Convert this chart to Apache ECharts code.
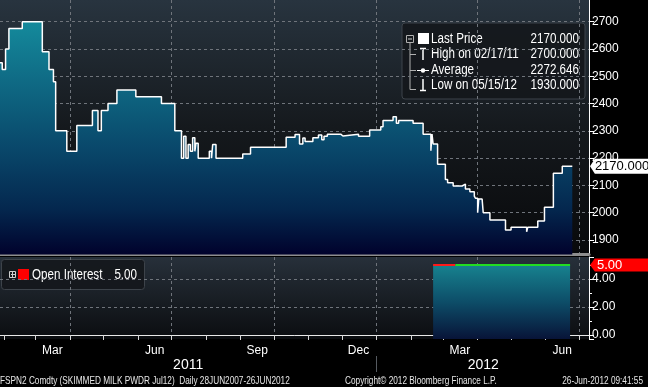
<!DOCTYPE html>
<html><head><meta charset="utf-8">
<script src="https://cdn.jsdelivr.net/npm/echarts@6/dist/echarts.min.js"></script>
<style>html,body{margin:0;padding:0;background:#000;}#c{width:648px;height:387px;}</style>
</head><body><div id="c"></div>
<script>
// ---------------- data ----------------
const axisStart = '2011-01-28';
const axisEnd = '2012-07-10';
const priceDates = [
 '2011-01-28','2011-01-30','2011-02-02','2011-02-05','2011-02-17','2011-03-07','2011-03-13','2011-03-17','2011-03-19','2011-03-29',
 '2011-04-07','2011-04-21','2011-04-26','2011-04-29','2011-05-05','2011-05-13','2011-05-30','2011-06-22','2011-07-04','2011-07-10',
 '2011-07-12','2011-07-14','2011-07-16','2011-07-18','2011-07-20','2011-07-22','2011-07-23','2011-07-25','2011-08-04','2011-08-06',
 '2011-08-07','2011-08-10','2011-09-03','2011-09-10','2011-10-12','2011-10-20','2011-10-24','2011-10-27','2011-10-29','2011-11-05',
 '2011-11-10','2011-11-13','2011-11-15','2011-11-18','2011-11-30','2011-12-02','2011-12-16','2011-12-26','2012-01-05','2012-01-07',
 '2012-01-16','2012-01-19','2012-01-21','2012-02-03','2012-02-12','2012-02-19','2012-02-20','2012-02-21','2012-02-25','2012-03-03',
 '2012-03-05','2012-03-10','2012-03-18','2012-03-21','2012-03-25','2012-03-29','2012-03-30','2012-04-01','2012-04-02','2012-04-05',
 '2012-04-06','2012-04-12','2012-04-26','2012-05-01','2012-05-15','2012-05-16','2012-05-25','2012-05-31','2012-06-08','2012-06-16',
 '2012-06-25'];
const priceValues = [
 2550,2525,2600,2675,2700,2590,2525,2480,2300,2225,
 2320,2375,2300,2375,2400,2450,2425,2400,2300,2200,
 2280,2200,2250,2225,2275,2225,2255,2200,2225,2200,
 2250,2200,2215,2240,2277,2287,2252,2274,2261,2275,
 2285,2267,2280,2288,2281,2288,2280,2303,2315,2338,
 2352,2328,2338,2328,2288,2227,2288,2252,2178,2122,
 2110,2098,2105,2087,2077,2061,2053,2000,2050,2044,
 2000,1973,1937,1947,1930,1947,1970,2020,2145,2170,
 2170];
const oiDates = ['2012-02-21','2012-03-12','2012-06-23'];
const oiValues = [5, 5, 5];
const lastPrice = 2170;
const lastOI = 5;
const monthNames = ['Jan','Feb','Mar','Apr','May','Jun','Jul','Aug','Sep','Oct','Nov','Dec'];
const labelMonths = ['03','06','09','12'];
const quarterMonths = ['01','04','07','10'];
const legendLabels = ['Last Price','High on 02/17/11','Average','Low on 05/15/12'];
const legendValues = ['2170.000','2700.000','2272.646','1930.000'];
const oiLegendLabel = 'Open Interest';
const oiLegendValue = '5.00';
const footerLeft = 'FSPN2 Comdty (SKIMMED MILK PWDR Jul12)  Daily 28JUN2007-26JUN2012';
const footerMid = 'Copyright\u00A9 2012 Bloomberg Finance L.P.';
const footerRight = '26-Jun-2012 09:41:55';

// ---------------- build ----------------
const cats = [];
for (let t = Date.parse(axisStart + 'T00:00:00Z'); t <= Date.parse(axisEnd + 'T00:00:00Z'); t += 86400000) {
  cats.push(new Date(t).toISOString().slice(0, 10));
}
const isMonthStart = v => v.slice(8) === '01';
const isQuarterStart = v => v.slice(8) === '01' && quarterMonths.includes(v.slice(5, 7));
const isLabelDay = v => v.slice(8) === '16' && labelMonths.includes(v.slice(5, 7));
const isYearStart = v => v.slice(5) === '01-01';
const yearMid = new Set();
{
  const years = {};
  cats.forEach((c, i) => { const y = c.slice(0, 4); if (!years[y]) years[y] = [i, i]; years[y][1] = i; });
  Object.values(years).forEach(r => yearMid.add(Math.round((r[0] + r[1]) / 2)));
}
const F = "'Liberation Sans', Arial, sans-serif";
const SX = 0.83; // condensed look of the original terminal font
const LG = (stops) => new echarts.graphic.LinearGradient(0, 0, 0, 1, stops.map(s => ({offset: s[0], color: s[1]})));
const dash = {color: '#6f747b', width: 1, type: [3, 3]};
const lastCat = cats[cats.length - 1];
const tagPath = 'path://M0,6 L5,0 L60,0 L60,12 L5,12 Z';
const txt = (x, y, text, size, align, color, sx) => ({type: 'text', x: x, y: y, scaleX: sx || SX,
  style: {text: text, fill: color || '#ffffff', font: size + 'px ' + F, align: align, verticalAlign: 'middle'}});

const chart = echarts.init(document.getElementById('c'));
const option = {
  backgroundColor: '#000',
  animation: false,
  textStyle: {fontFamily: F},
  grid: [
    {left: 0, top: 0, width: 589, height: 254.5, show: true, borderWidth: 0, outerBoundsMode: 'none',
     backgroundColor: LG([[0, '#28343f'], [0.5, '#15191d'], [1, '#08090b']])},
    {left: 0, top: 257, width: 589, height: 82, show: true, borderWidth: 0, outerBoundsMode: 'none',
     backgroundColor: LG([[0, '#27303a'], [1, '#0b0d10']])}
  ],
  xAxis: [
    {type: 'category', gridIndex: 0, data: cats, boundaryGap: false,
     axisLine: {show: true, lineStyle: {color: '#8e8e8e', width: 3}},
     axisTick: {show: false}, axisLabel: {show: false},
     splitLine: {show: true, interval: (i, v) => isQuarterStart(v), lineStyle: dash}},
    {type: 'category', gridIndex: 1, data: cats, boundaryGap: false,
     axisLine: {show: true, lineStyle: {color: '#e8e8e8', width: 1}},
     axisTick: {show: true, interval: (i, v) => isMonthStart(v), length: 5, lineStyle: {color: '#d8d8d8'}},
     axisLabel: {show: true, interval: (i, v) => isLabelDay(v), color: '#ffffff', fontSize: 12, margin: 6,
                 formatter: v => monthNames[parseInt(v.slice(5, 7), 10) - 1]},
     splitLine: {show: true, interval: (i, v) => isQuarterStart(v), lineStyle: dash}},
    {type: 'category', gridIndex: 1, data: cats, boundaryGap: false, position: 'bottom', offset: 17,
     axisLine: {show: false},
     axisTick: {show: true, interval: (i, v) => isYearStart(v), length: 16, lineStyle: {color: '#555a60'}},
     axisLabel: {show: true, interval: (i) => yearMid.has(i), color: '#ffffff', fontSize: 14, margin: 2,
                 formatter: v => v.slice(0, 4)},
     splitLine: {show: false}}
  ],
  yAxis: [
    {type: 'value', gridIndex: 0, position: 'right', min: 1847, max: 2779.5, minInterval: 100, maxInterval: 100,
     axisLine: {show: true, lineStyle: {color: '#ffffff'}},
     axisTick: {show: true, length: 5, lineStyle: {color: '#ffffff'}},
     axisLabel: {show: true, color: '#ffffff', fontSize: 12, margin: 3, showMinLabel: false, showMaxLabel: false,
                 formatter: v => String(v)},
     splitLine: {show: true, lineStyle: dash, showMinLine: false, showMaxLine: false}},
    {type: 'value', gridIndex: 1, position: 'right', min: -0.286, max: 5.571, minInterval: 2, maxInterval: 2,
     axisLine: {show: true, lineStyle: {color: '#ffffff'}},
     axisTick: {show: true, length: 5, lineStyle: {color: '#ffffff'}},
     minorTick: {show: true, splitNumber: 2, length: 3, lineStyle: {color: '#ffffff'}},
     axisLabel: {show: true, color: '#ffffff', fontSize: 12, margin: 3, showMinLabel: false, showMaxLabel: false,
                 formatter: v => v.toFixed(2)},
     splitLine: {show: true, lineStyle: dash, showMinLine: false, showMaxLine: false}}
  ],
  series: [
    {type: 'line', name: 'Last Price', xAxisIndex: 0, yAxisIndex: 0, step: 'end', symbol: 'none', z: 3,
     data: priceDates.map((d, i) => [d, priceValues[i]]),
     lineStyle: {color: '#ffffff', width: 1.5},
     areaStyle: {origin: 'start', opacity: 1,
                 color: LG([[0, '#148a9c'], [0.25, '#0f6b85'], [0.55, '#09476a'], [0.8, '#04284f'], [1, '#01022c']])},
     markPoint: {symbol: tagPath, symbolSize: [58, 15], symbolOffset: [30, 0], silent: true,
                 itemStyle: {color: '#ffffff'},
                 label: {show: true, position: 'inside', offset: [3, 0], color: '#000', fontSize: 13, fontFamily: F,
                         formatter: p => p.value.toFixed(3)},
                 data: [{coord: [lastCat, lastPrice], value: lastPrice}]}},
    {type: 'line', name: 'Open Interest', xAxisIndex: 1, yAxisIndex: 1, symbol: 'none', z: 3,
     data: oiDates.map((d, i) => [d, oiValues[i]]),
     lineStyle: {width: 0, opacity: 0},
     areaStyle: {origin: 'start', opacity: 1, color: LG([[0, '#17828f'], [0.5, '#0d4d68'], [1, '#081438']])},
     markPoint: {symbol: tagPath, symbolSize: [58, 13], symbolOffset: [30, 0], silent: true,
                 itemStyle: {color: '#ff0000'},
                 label: {show: true, position: 'inside', align: 'left', offset: [-22, 0], color: '#fff', fontSize: 13, fontFamily: F,
                         formatter: p => p.value.toFixed(2)},
                 data: [{coord: [lastCat, lastOI], value: lastOI}]}},
    {type: 'line', xAxisIndex: 1, yAxisIndex: 1, symbol: 'none', z: 4,
     data: oiDates.slice(0, 2).map((d, i) => [d, oiValues[i]]),
     lineStyle: {color: '#ff1a1a', width: 2}},
    {type: 'line', xAxisIndex: 1, yAxisIndex: 1, symbol: 'none', z: 4,
     data: oiDates.slice(1).map((d, i) => [d, oiValues[i + 1]]),
     lineStyle: {color: '#22dd22', width: 2}}
  ],
  graphic: [
    {type: 'group', x: 402, y: 23, z: 10, children: [
      {type: 'rect', shape: {x: 0, y: 0, width: 183, height: 76, r: 3}, style: {fill: 'rgba(20,24,28,0.93)', stroke: '#3d434a', lineWidth: 1}},
      {type: 'rect', shape: {x: 4.5, y: 12.5, width: 7, height: 7}, style: {fill: 'none', stroke: '#b0b0b0', lineWidth: 1}},
      {type: 'line', shape: {x1: 6, y1: 16, x2: 10, y2: 16}, style: {stroke: '#d0d0d0', lineWidth: 1}},
      {type: 'line', shape: {x1: 8, y1: 20, x2: 8, y2: 66.5}, style: {stroke: '#b0b0b0', lineWidth: 1}},
      {type: 'line', shape: {x1: 8, y1: 31.5, x2: 14, y2: 31.5}, style: {stroke: '#b0b0b0', lineWidth: 1}},
      {type: 'line', shape: {x1: 8, y1: 47.5, x2: 14, y2: 47.5}, style: {stroke: '#b0b0b0', lineWidth: 1}},
      {type: 'line', shape: {x1: 8, y1: 66.5, x2: 14, y2: 66.5}, style: {stroke: '#b0b0b0', lineWidth: 1}},
      {type: 'rect', shape: {x: 16, y: 10, width: 11, height: 11}, style: {fill: '#ffffff'}},
      {type: 'line', shape: {x1: 18, y1: 25.5, x2: 24, y2: 25.5}, style: {stroke: '#ffffff', lineWidth: 1.5}},
      {type: 'line', shape: {x1: 21, y1: 25.5, x2: 21, y2: 37}, style: {stroke: '#ffffff', lineWidth: 1.5}},
      {type: 'line', shape: {x1: 15, y1: 47.5, x2: 27, y2: 47.5}, style: {stroke: '#ffffff', lineWidth: 1}},
      {type: 'circle', shape: {cx: 21, cy: 47.5, r: 2.2}, style: {fill: '#ffffff'}},
      {type: 'line', shape: {x1: 21, y1: 56, x2: 21, y2: 67}, style: {stroke: '#ffffff', lineWidth: 1.5}},
      {type: 'line', shape: {x1: 18, y1: 67.5, x2: 24, y2: 67.5}, style: {stroke: '#ffffff', lineWidth: 1.5}},
      ...legendLabels.map((t, i) => txt(29, [16, 31, 47.5, 62][i], t, 14, 'left')),
      ...legendValues.map((t, i) => txt(177, [16, 31, 47.5, 62][i], t, 14, 'right'))
    ]},
    {type: 'group', x: 1, y: 259, z: 10, children: [
      {type: 'rect', shape: {x: 0.5, y: 0.5, width: 143, height: 30, r: 3}, style: {fill: 'rgba(20,24,28,0.93)', stroke: '#3d434a', lineWidth: 1}},
      {type: 'rect', shape: {x: 8.5, y: 12.5, width: 6, height: 6}, style: {fill: 'none', stroke: '#d0d0d0', lineWidth: 1}},
      {type: 'line', shape: {x1: 10, y1: 15.5, x2: 14, y2: 15.5}, style: {stroke: '#d0d0d0', lineWidth: 1}},
      {type: 'line', shape: {x1: 11.5, y1: 13, x2: 11.5, y2: 18}, style: {stroke: '#d0d0d0', lineWidth: 1}},
      {type: 'rect', shape: {x: 17, y: 10, width: 11, height: 11}, style: {fill: '#ff0000'}},
      txt(31, 16, oiLegendLabel, 14, 'left'),
      txt(136, 16, oiLegendValue, 14, 'right')
    ]},
    {type: 'group', x: 0, y: 0, z: 10, children: [
      txt(0, 381, footerLeft, 11, 'left', '#e6e6e6', 0.75),
      txt(345, 381, footerMid, 11, 'left', '#e6e6e6', 0.75),
      txt(643, 381, footerRight, 11, 'right', '#e6e6e6', 0.75)
    ]}
  ]
};
chart.setOption(option);
</script>
</body></html>
